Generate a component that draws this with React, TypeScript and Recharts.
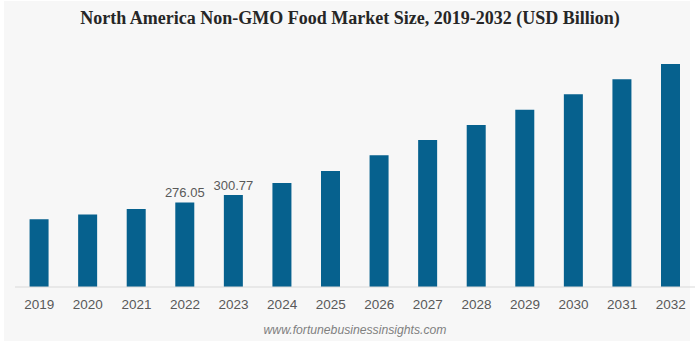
import React from 'react';
import { BarChart, Bar, XAxis, YAxis, LabelList } from 'recharts';

const years = ['2019','2020','2021','2022','2023','2024','2025','2026','2027','2028','2029','2030','2031','2032'];
const marketSize = [221, 237, 255, 276.05, 300.77, 340, 379, 430, 480, 529, 579, 629, 678, 728];
const labeledYears = ['2022', '2023'];
const titleText = 'North America Non-GMO Food Market Size, 2019-2032 (USD Billion)';
const sourceText = 'www.fortunebusinessinsights.com';

const data = years.map((y, i) => ({
  year: y,
  value: marketSize[i],
  label: labeledYears.includes(y) ? marketSize[i].toFixed(2) : '',
}));

export default function App() {
  return (
    <div style={{ position: 'absolute', left: 0, top: 0, width: 697, height: 343, background: '#ffffff', overflow: 'hidden' }}>
      <div style={{ position: 'absolute', left: 4, top: 1, width: 686, height: 340, background: '#f7f7f7' }} />
      <div
        style={{
          position: 'absolute', left: 0, top: 6, width: 700, textAlign: 'center',
          fontFamily: '"Liberation Serif", "Times New Roman", serif', fontWeight: 'bold',
          fontSize: 18, color: '#262626', lineHeight: '24px',
        }}
      >
        {titleText}
      </div>
      <div style={{ position: 'absolute', left: 0, top: 0 }}>
        <BarChart
          width={697}
          height={343}
          data={data}
          margin={{ top: 42, right: 2, bottom: 26, left: 15 }}
          barCategoryGap="30%"
        >
          <XAxis
            dataKey="year"
            height={30}
            tickLine={false}
            tickMargin={6}
            axisLine={{ stroke: '#d9d9d9' }}
            tick={{ fill: '#595959', fontSize: 13.5, fontFamily: '"Liberation Sans", Arial, sans-serif' }}
            interval={0}
          />
          <YAxis hide domain={[0, 800]} />
          <Bar dataKey="value" fill="#06618e" isAnimationActive={false}>
            <LabelList
              dataKey="label"
              position="top"
              offset={5}
              fill="#595959"
              fontSize={13}
              fontFamily='"Liberation Sans", Arial, sans-serif'
            />
          </Bar>
        </BarChart>
      </div>
      <div
        style={{
          position: 'absolute', left: 0, top: 322, width: 710, textAlign: 'center',
          fontFamily: '"Liberation Sans", Arial, sans-serif', fontStyle: 'italic',
          fontSize: 12.2, color: '#7f7f7f', lineHeight: '16px',
        }}
      >
        {sourceText}
      </div>
    </div>
  );
}
